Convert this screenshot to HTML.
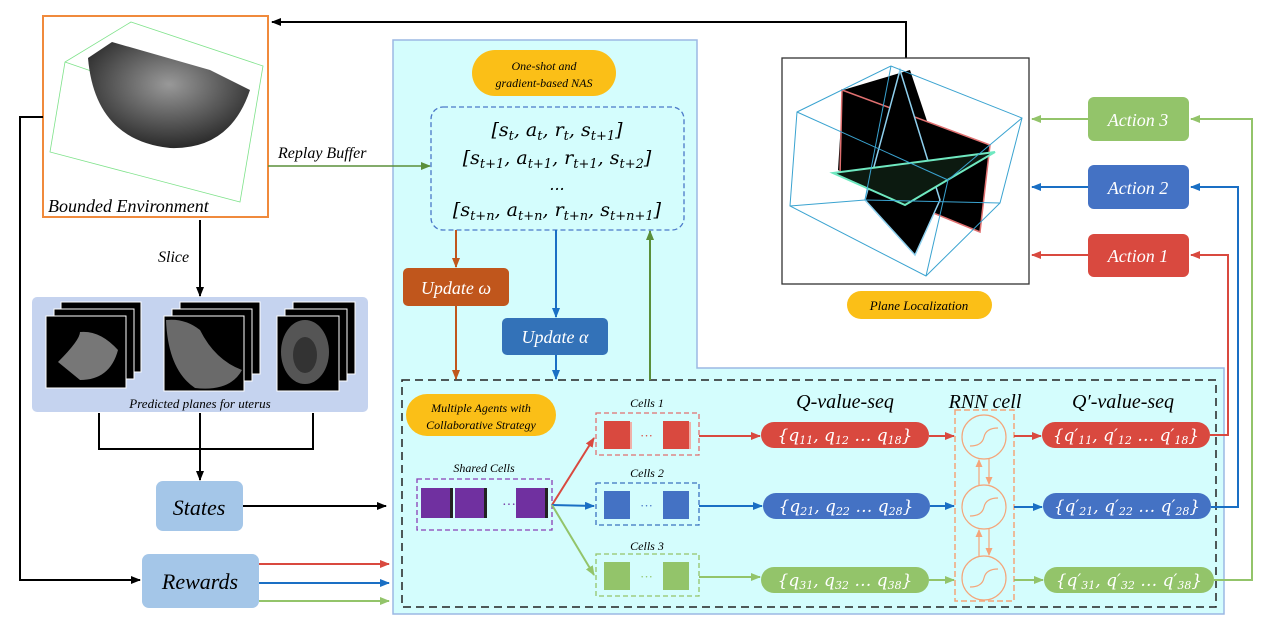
<!DOCTYPE html>
<html><head><meta charset="utf-8"><style>
html,body{margin:0;padding:0;background:#fff}
svg{display:block}
text{font-family:"Liberation Serif",serif;font-style:italic}
.m{font-family:"DejaVu Serif","Liberation Serif",serif;font-style:italic}
</style></head><body>
<svg width="1269" height="634" viewBox="0 0 1269 634" xmlns="http://www.w3.org/2000/svg">
<defs>
<marker id="ak" markerWidth="10" markerHeight="8" refX="9" refY="4" orient="auto" markerUnits="userSpaceOnUse"><path d="M0,0 L10,4 L0,8 Z" fill="#000"/></marker>
<marker id="ar" markerWidth="10" markerHeight="8" refX="9" refY="4" orient="auto" markerUnits="userSpaceOnUse"><path d="M0,0 L10,4 L0,8 Z" fill="#d9493f"/></marker>
<marker id="ab" markerWidth="10" markerHeight="8" refX="9" refY="4" orient="auto" markerUnits="userSpaceOnUse"><path d="M0,0 L10,4 L0,8 Z" fill="#1a6fc4"/></marker>
<marker id="ag" markerWidth="10" markerHeight="8" refX="9" refY="4" orient="auto" markerUnits="userSpaceOnUse"><path d="M0,0 L10,4 L0,8 Z" fill="#93c46a"/></marker>
<marker id="ad" markerWidth="10" markerHeight="8" refX="9" refY="4" orient="auto" markerUnits="userSpaceOnUse"><path d="M0,0 L10,4 L0,8 Z" fill="#5a8f3a"/></marker>
<marker id="ao" markerWidth="10" markerHeight="8" refX="9" refY="4" orient="auto" markerUnits="userSpaceOnUse"><path d="M0,0 L10,4 L0,8 Z" fill="#c0561c"/></marker>
<marker id="ap" markerWidth="8" markerHeight="7" refX="7" refY="3.5" orient="auto" markerUnits="userSpaceOnUse"><path d="M0,0 L8,3.5 L0,7 Z" fill="#f4a57a"/></marker>
<radialGradient id="us" cx="50%" cy="40%" r="60%"><stop offset="0" stop-color="#999"/><stop offset="1" stop-color="#2a2a2a"/></radialGradient>
</defs>

<path d="M393,40 H697 V368 H1224 V614 H393 Z" fill="#d4fdfd" stroke="#9bb8e4" stroke-width="1.5"/>
<rect x="402" y="380" width="814" height="227" fill="none" stroke="#222" stroke-width="1.5" stroke-dasharray="8,5"/>

<rect x="43" y="16" width="225" height="201" fill="#fff" stroke="#f08a3c" stroke-width="2"/>
<polygon points="131,22 263,66 240,202 50,152 65,62" fill="none" stroke="#7ee28a" stroke-width="0.8"/>
<line x1="65" y1="62" x2="234" y2="120" stroke="#7ee28a" stroke-width="0.8"/>
<path d="M112,42 L210,70 L250,90 Q230,150 170,148 Q95,140 88,58 Z" fill="url(#us)"/>
<text x="48" y="212" font-size="18">Bounded Environment</text>

<polyline points="906,58 906,22 272,22" fill="none" stroke="#000" stroke-width="2" marker-end="url(#ak)"/>
<polyline points="43,117 20,117 20,580 140,580" fill="none" stroke="#000" stroke-width="2" marker-end="url(#ak)"/>
<line x1="200" y1="220" x2="200" y2="296" stroke="#000" stroke-width="2" marker-end="url(#ak)"/>
<text x="158" y="262" font-size="16">Slice</text>
<line x1="268" y1="166" x2="430" y2="166" stroke="#5a8f3a" stroke-width="1.5" marker-end="url(#ad)"/>
<text x="278" y="158" font-size="16">Replay Buffer</text>

<rect x="32" y="297" width="336" height="115" rx="5" fill="#c5d3ef"/>
<g>
<rect x="61" y="302" width="80" height="70" fill="#000" stroke="#fff"/>
<rect x="54" y="309" width="80" height="70" fill="#000" stroke="#fff"/>
<rect x="46" y="316" width="80" height="72" fill="#000" stroke="#fff"/>
<path d="M58,362 Q80,340 80,332 Q100,330 118,350 Q110,380 80,380 Z" fill="#777"/>
<rect x="180" y="302" width="80" height="72" fill="#000" stroke="#fff"/>
<rect x="172" y="309" width="80" height="72" fill="#000" stroke="#fff"/>
<rect x="164" y="316" width="80" height="75" fill="#000" stroke="#fff"/>
<path d="M166,320 Q185,318 200,330 Q215,360 242,370 Q230,392 195,388 Q168,370 166,320 Z" fill="#6a6a6a"/>
<rect x="293" y="302" width="62" height="72" fill="#000" stroke="#fff"/>
<rect x="285" y="309" width="62" height="72" fill="#000" stroke="#fff"/>
<rect x="277" y="316" width="62" height="75" fill="#000" stroke="#fff"/>
<ellipse cx="305" cy="352" rx="24" ry="32" fill="#555"/>
<ellipse cx="305" cy="355" rx="12" ry="18" fill="#333"/>
</g>
<text x="200" y="408" font-size="13" text-anchor="middle">Predicted planes for uterus</text>
<polyline points="99,413 99,449 313,449 313,413" fill="none" stroke="#000" stroke-width="2"/>
<line x1="200" y1="413" x2="200" y2="480" stroke="#000" stroke-width="2" marker-end="url(#ak)"/>

<rect x="156" y="481" width="87" height="50" rx="7" fill="#a4c6e8"/>
<text x="199" y="515" font-size="22" text-anchor="middle">States</text>
<line x1="243" y1="506" x2="386" y2="506" stroke="#000" stroke-width="2" marker-end="url(#ak)"/>
<rect x="142" y="554" width="117" height="54" rx="7" fill="#a4c6e8"/>
<text x="200" y="589" font-size="22" text-anchor="middle">Rewards</text>
<line x1="259" y1="564" x2="389" y2="564" stroke="#d9493f" stroke-width="2" marker-end="url(#ar)"/>
<line x1="259" y1="583" x2="389" y2="583" stroke="#1a6fc4" stroke-width="2" marker-end="url(#ab)"/>
<line x1="259" y1="601" x2="389" y2="601" stroke="#93c46a" stroke-width="2" marker-end="url(#ag)"/>

<rect x="472" y="50" width="144" height="46" rx="23" fill="#fbbf17"/>
<text x="544" y="70" font-size="12" text-anchor="middle">One-shot and</text>
<text x="544" y="87" font-size="12" text-anchor="middle">gradient-based NAS</text>

<rect x="431" y="107" width="253" height="123" rx="12" fill="none" stroke="#4a78c8" stroke-width="1.3" stroke-dasharray="5,3"/>
<text class="m" x="557" y="136" font-size="19" text-anchor="middle">[s<tspan font-size="13" dy="4">t</tspan><tspan dy="-4">, a</tspan><tspan font-size="13" dy="4">t</tspan><tspan dy="-4">, r</tspan><tspan font-size="13" dy="4">t</tspan><tspan dy="-4">, s</tspan><tspan font-size="13" dy="4">t+1</tspan><tspan dy="-4">]</tspan></text>
<text class="m" x="557" y="164" font-size="19" text-anchor="middle">[s<tspan font-size="13" dy="4">t+1</tspan><tspan dy="-4">, a</tspan><tspan font-size="13" dy="4">t+1</tspan><tspan dy="-4">, r</tspan><tspan font-size="13" dy="4">t+1</tspan><tspan dy="-4">, s</tspan><tspan font-size="13" dy="4">t+2</tspan><tspan dy="-4">]</tspan></text>
<text class="m" x="557" y="190" font-size="16" text-anchor="middle">...</text>
<text class="m" x="557" y="216" font-size="19" text-anchor="middle">[s<tspan font-size="13" dy="4">t+n</tspan><tspan dy="-4">, a</tspan><tspan font-size="13" dy="4">t+n</tspan><tspan dy="-4">, r</tspan><tspan font-size="13" dy="4">t+n</tspan><tspan dy="-4">, s</tspan><tspan font-size="13" dy="4">t+n+1</tspan><tspan dy="-4">]</tspan></text>

<line x1="456" y1="230" x2="456" y2="267" stroke="#c0561c" stroke-width="2" marker-end="url(#ao)"/>
<rect x="403" y="268" width="106" height="38" rx="5" fill="#c0561c"/>
<text x="456" y="294" font-size="18" fill="#fff" text-anchor="middle">Update ω</text>
<line x1="456" y1="306" x2="456" y2="379" stroke="#c0561c" stroke-width="2" marker-end="url(#ao)"/>
<line x1="556" y1="230" x2="556" y2="317" stroke="#1a6fc4" stroke-width="2" marker-end="url(#ab)"/>
<rect x="502" y="318" width="106" height="37" rx="5" fill="#3372b8"/>
<text x="555" y="343" font-size="18" fill="#fff" text-anchor="middle">Update α</text>
<line x1="556" y1="355" x2="556" y2="379" stroke="#1a6fc4" stroke-width="2" marker-end="url(#ab)"/>
<line x1="650" y1="380" x2="650" y2="231" stroke="#5a8f3a" stroke-width="2" marker-end="url(#ad)"/>

<rect x="406" y="394" width="150" height="42" rx="21" fill="#fbbf17"/>
<text x="481" y="412" font-size="12" text-anchor="middle">Multiple Agents with</text>
<text x="481" y="429" font-size="12" text-anchor="middle">Collaborative Strategy</text>

<text x="484" y="472" font-size="12" text-anchor="middle">Shared Cells</text>
<rect x="417" y="479" width="135" height="51" fill="none" stroke="#8a3fb5" stroke-width="1.3" stroke-dasharray="5,3"/>
<rect x="421" y="488" width="29" height="30" fill="#7030a0"/><rect x="450" y="488" width="3" height="30" fill="#222"/>
<rect x="455" y="488" width="29" height="30" fill="#7030a0"/><rect x="484" y="488" width="3" height="30" fill="#222"/>
<text x="502" y="509" font-size="14" fill="#7030a0" style="font-style:normal">···</text>
<rect x="516" y="488" width="29" height="30" fill="#7030a0"/><rect x="545" y="488" width="3" height="30" fill="#222"/>
<line x1="552" y1="505" x2="594" y2="438" stroke="#d9493f" stroke-width="2" marker-end="url(#ar)"/>
<line x1="552" y1="505" x2="594" y2="506" stroke="#1a6fc4" stroke-width="2" marker-end="url(#ab)"/>
<line x1="552" y1="505" x2="594" y2="575" stroke="#93c46a" stroke-width="2" marker-end="url(#ag)"/>

<text x="647" y="407" font-size="12" text-anchor="middle">Cells 1</text>
<rect x="596" y="413" width="103" height="42" fill="none" stroke="#e07070" stroke-width="1.3" stroke-dasharray="5,3"/>
<rect x="604" y="421" width="26" height="28" fill="#d9493f"/><rect x="630" y="422" width="2" height="27" fill="#f0b0a8"/><rect x="663" y="421" width="26" height="28" fill="#d9493f"/><rect x="689" y="422" width="2" height="27" fill="#f0b0a8"/>
<text x="640" y="440" font-size="13" fill="#d9493f" style="font-style:normal">···</text>
<text x="647" y="477" font-size="12" text-anchor="middle">Cells 2</text>
<rect x="596" y="483" width="103" height="42" fill="none" stroke="#3a72c0" stroke-width="1.3" stroke-dasharray="5,3"/>
<rect x="604" y="491" width="26" height="28" fill="#4472c4"/><rect x="663" y="491" width="26" height="28" fill="#4472c4"/>
<text x="640" y="510" font-size="13" fill="#4472c4" style="font-style:normal">···</text>
<text x="647" y="550" font-size="12" text-anchor="middle">Cells 3</text>
<rect x="596" y="554" width="103" height="42" fill="none" stroke="#93c46a" stroke-width="1.3" stroke-dasharray="5,3"/>
<rect x="604" y="562" width="26" height="28" fill="#93c46a"/><rect x="663" y="562" width="26" height="28" fill="#93c46a"/>
<text x="640" y="581" font-size="13" fill="#93c46a" style="font-style:normal">···</text>

<line x1="699" y1="436" x2="760" y2="436" stroke="#d9493f" stroke-width="2" marker-end="url(#ar)"/>
<line x1="699" y1="506" x2="762" y2="506" stroke="#1a6fc4" stroke-width="2" marker-end="url(#ab)"/>
<line x1="699" y1="577" x2="760" y2="577" stroke="#93c46a" stroke-width="2" marker-end="url(#ag)"/>

<text x="845" y="408" font-size="20" text-anchor="middle">Q-value-seq</text>
<rect x="761" y="422" width="168" height="26" rx="13" fill="#d9493f"/>
<text class="m" x="845" y="441" font-size="17" fill="#fff" text-anchor="middle">{q<tspan font-size="11" dy="3">11</tspan><tspan dy="-3">, q</tspan><tspan font-size="11" dy="3">12</tspan><tspan dy="-3"> … q</tspan><tspan font-size="11" dy="3">18</tspan><tspan dy="-3">}</tspan></text>
<rect x="763" y="493" width="167" height="26" rx="13" fill="#4472c4"/>
<text class="m" x="846" y="512" font-size="17" fill="#fff" text-anchor="middle">{q<tspan font-size="11" dy="3">21</tspan><tspan dy="-3">, q</tspan><tspan font-size="11" dy="3">22</tspan><tspan dy="-3"> … q</tspan><tspan font-size="11" dy="3">28</tspan><tspan dy="-3">}</tspan></text>
<rect x="761" y="567" width="168" height="26" rx="13" fill="#93c46a"/>
<text class="m" x="845" y="586" font-size="17" fill="#fff" text-anchor="middle">{q<tspan font-size="11" dy="3">31</tspan><tspan dy="-3">, q</tspan><tspan font-size="11" dy="3">32</tspan><tspan dy="-3"> … q</tspan><tspan font-size="11" dy="3">38</tspan><tspan dy="-3">}</tspan></text>

<line x1="929" y1="436" x2="954" y2="436" stroke="#d9493f" stroke-width="2" marker-end="url(#ar)"/>
<line x1="930" y1="506" x2="954" y2="506" stroke="#1a6fc4" stroke-width="2" marker-end="url(#ab)"/>
<line x1="929" y1="580" x2="954" y2="580" stroke="#93c46a" stroke-width="2" marker-end="url(#ag)"/>

<text x="985" y="408" font-size="20" text-anchor="middle">RNN cell</text>
<rect x="955" y="410" width="59" height="191" fill="none" stroke="#f4a57a" stroke-width="1.5" stroke-dasharray="6,3"/>
<g fill="none" stroke="#f4a57a" stroke-width="1.2">
<circle cx="984" cy="437" r="22"/><path d="M970,446 Q982,446 984,437 Q986,428 998,428"/>
<circle cx="984" cy="507" r="22"/><path d="M970,516 Q982,516 984,507 Q986,498 998,498"/>
<circle cx="984" cy="578" r="22"/><path d="M970,587 Q982,587 984,578 Q986,569 998,569"/>
<line x1="979" y1="485" x2="979" y2="460" marker-end="url(#ap)"/>
<line x1="989" y1="459" x2="989" y2="484" marker-end="url(#ap)"/>
<line x1="979" y1="556" x2="979" y2="530" marker-end="url(#ap)"/>
<line x1="989" y1="529" x2="989" y2="555" marker-end="url(#ap)"/>
</g>
<line x1="1014" y1="436" x2="1041" y2="436" stroke="#d9493f" stroke-width="2" marker-end="url(#ar)"/>
<line x1="1014" y1="507" x2="1042" y2="507" stroke="#1a6fc4" stroke-width="2" marker-end="url(#ab)"/>
<line x1="1014" y1="580" x2="1043" y2="580" stroke="#93c46a" stroke-width="2" marker-end="url(#ag)"/>

<text x="1123" y="408" font-size="20" text-anchor="middle">Q′-value-seq</text>
<rect x="1042" y="422" width="168" height="26" rx="13" fill="#d9493f"/>
<text class="m" x="1126" y="441" font-size="17" fill="#fff" text-anchor="middle">{q′<tspan font-size="11" dy="3">11</tspan><tspan dy="-3">, q′</tspan><tspan font-size="11" dy="3">12</tspan><tspan dy="-3"> … q′</tspan><tspan font-size="11" dy="3">18</tspan><tspan dy="-3">}</tspan></text>
<rect x="1043" y="493" width="168" height="26" rx="13" fill="#4472c4"/>
<text class="m" x="1127" y="512" font-size="17" fill="#fff" text-anchor="middle">{q′<tspan font-size="11" dy="3">21</tspan><tspan dy="-3">, q′</tspan><tspan font-size="11" dy="3">22</tspan><tspan dy="-3"> … q′</tspan><tspan font-size="11" dy="3">28</tspan><tspan dy="-3">}</tspan></text>
<rect x="1044" y="567" width="170" height="26" rx="13" fill="#93c46a"/>
<text class="m" x="1129" y="586" font-size="17" fill="#fff" text-anchor="middle">{q′<tspan font-size="11" dy="3">31</tspan><tspan dy="-3">, q′</tspan><tspan font-size="11" dy="3">32</tspan><tspan dy="-3"> … q′</tspan><tspan font-size="11" dy="3">38</tspan><tspan dy="-3">}</tspan></text>

<polyline points="1210,435 1228,435 1228,255 1191,255" fill="none" stroke="#d9493f" stroke-width="2" marker-end="url(#ar)"/>
<polyline points="1211,507 1238,507 1238,187 1191,187" fill="none" stroke="#1a6fc4" stroke-width="2" marker-end="url(#ab)"/>
<polyline points="1214,580 1252,580 1252,119 1191,119" fill="none" stroke="#93c46a" stroke-width="2" marker-end="url(#ag)"/>

<rect x="1088" y="97" width="101" height="44" rx="6" fill="#93c46a"/>
<text x="1138" y="126" font-size="18" fill="#fff" text-anchor="middle">Action 3</text>
<rect x="1088" y="165" width="101" height="44" rx="6" fill="#4472c4"/>
<text x="1138" y="194" font-size="18" fill="#fff" text-anchor="middle">Action 2</text>
<rect x="1088" y="234" width="101" height="43" rx="6" fill="#d9493f"/>
<text x="1138" y="262" font-size="18" fill="#fff" text-anchor="middle">Action 1</text>
<line x1="1088" y1="119" x2="1032" y2="119" stroke="#93c46a" stroke-width="2" marker-end="url(#ag)"/>
<line x1="1088" y1="187" x2="1032" y2="187" stroke="#1a6fc4" stroke-width="2" marker-end="url(#ab)"/>
<line x1="1088" y1="255" x2="1032" y2="255" stroke="#d9493f" stroke-width="2" marker-end="url(#ar)"/>

<rect x="782" y="58" width="247" height="226" fill="#fff" stroke="#333" stroke-width="1.3"/>
<polygon points="843,90 910,70 940,160 870,190 838,170" fill="#000"/>
<polygon points="842,90 990,145 980,232 840,175" fill="#000" stroke="#e07070" stroke-width="1.5"/>
<polygon points="900,70 940,200 915,255 865,200" fill="#000" stroke="#8fd0ee" stroke-width="1.5"/>
<polygon points="833,173 995,152 905,205" fill="#0c1a10" stroke="#6fe8c0" stroke-width="2"/>
<g fill="none" stroke="#3aa3d0" stroke-width="1">
<polygon points="797,112 891,66 1022,118 1000,203 926,276 790,206"/>
<line x1="891" y1="66" x2="865" y2="200"/>
<line x1="790" y1="206" x2="865" y2="200"/>
<line x1="865" y1="200" x2="1000" y2="203"/>
<line x1="797" y1="112" x2="948" y2="180"/>
<line x1="1022" y1="118" x2="948" y2="180"/>
<line x1="948" y1="180" x2="926" y2="276"/>
</g>
<rect x="847" y="291" width="145" height="28" rx="14" fill="#fbbf17"/>
<text x="919" y="310" font-size="13" text-anchor="middle">Plane Localization</text>
</svg>
</body></html>
